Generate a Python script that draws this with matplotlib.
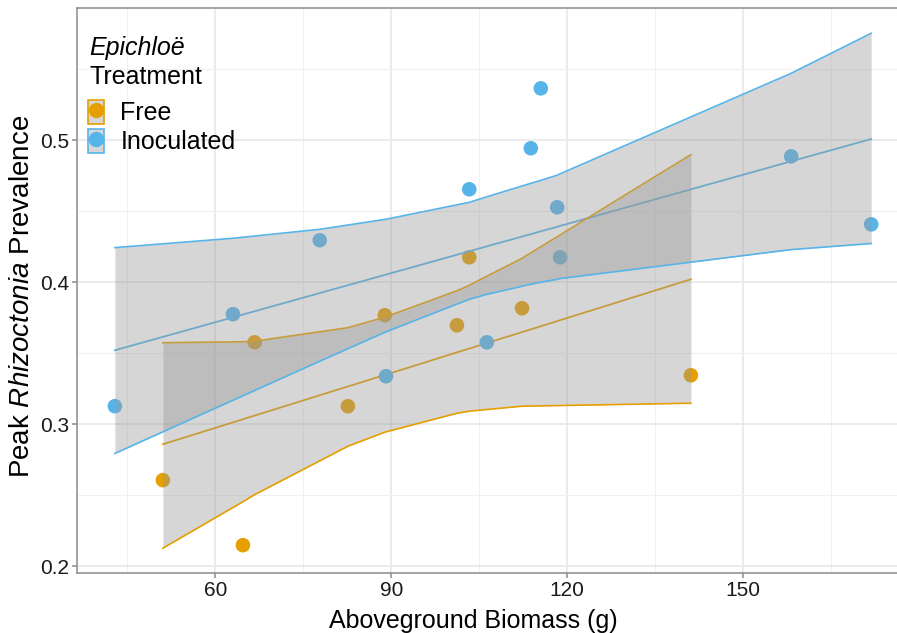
import numpy as np
import matplotlib
matplotlib.use('Agg')
import matplotlib.pyplot as plt
from matplotlib.patches import Patch
from matplotlib.lines import Line2D

plt.rcParams['font.family'] = ['Liberation Sans', 'DejaVu Sans']
plt.rcParams['mathtext.fontset'] = 'custom'
plt.rcParams['mathtext.rm'] = 'Liberation Sans'
plt.rcParams['mathtext.it'] = 'Liberation Sans:italic'

# Epichloe free plants
free_x = [51.05, 64.7, 66.7, 82.6, 88.9, 101.2, 103.3, 112.3, 141.1]
free_y = [0.2606, 0.2148, 0.3577, 0.3127, 0.3768, 0.3697, 0.4176, 0.3817, 0.3345]
free_fit = [0.2859, 0.3035, 0.3061, 0.3266, 0.3347, 0.3506, 0.3533, 0.3649, 0.4021]
free_hi = [0.3574, 0.3581, 0.3585, 0.3680, 0.3754, 0.3940, 0.3979, 0.4169, 0.4899]
free_lo = [0.2127, 0.2454, 0.2504, 0.2845, 0.2944, 0.3077, 0.3092, 0.3127, 0.3148]

# inoculated plants
inoc_x = [42.86, 63.0, 77.8, 89.1, 103.3, 106.3, 113.8, 115.5, 118.3, 118.8, 158.2, 171.85]
inoc_y = [0.3127, 0.3775, 0.4296, 0.3338, 0.4655, 0.3577, 0.4944, 0.5366, 0.4528, 0.4176, 0.4887, 0.4408]
inoc_fit = [0.3521, 0.3753, 0.3924, 0.4054, 0.4218, 0.4253, 0.4339, 0.4359, 0.4391, 0.4397, 0.4852, 0.5009]
inoc_hi = [0.4244, 0.4310, 0.4373, 0.4444, 0.4563, 0.4602, 0.4697, 0.4718, 0.4754, 0.4764, 0.5472, 0.5754]
inoc_lo = [0.2794, 0.3169, 0.3444, 0.3651, 0.3880, 0.3915, 0.3986, 0.4000, 0.4021, 0.4026, 0.4230, 0.4273]

groups = ['Free', 'Inoculated']
colors = ['#E69F00', '#56B4E9']
x_ticks = [60, 90, 120, 150]
y_ticks = [0.2, 0.3, 0.4, 0.5]

W, H = 897, 633
fig = plt.figure(figsize=(W / 100, H / 100), dpi=100)
# panel runs a bit past the right edge like the (cropped) original
ax = fig.add_axes([77 / W, 60 / H, (909 - 77) / W, 565 / H])

data = [(free_x, free_y, free_fit, free_lo, free_hi),
        (inoc_x, inoc_y, inoc_fit, inoc_lo, inoc_hi)]

# points and fitted lines sit under the ribbons
for (x, y, fit, lo, hi), c in zip(data, colors):
    ax.scatter(x, y, s=110, color=c, edgecolors='none', zorder=2)
    ax.plot(x, fit, color=c, lw=1.3, zorder=2)

for i, ((x, y, fit, lo, hi), c) in enumerate(zip(data, colors)):
    z = 3 + 2 * i
    ax.fill_between(x, lo, hi, color='#999999', alpha=0.4, lw=0, zorder=z)
    ax.plot(x, lo, color=c, lw=1.2, zorder=z + 0.5)
    ax.plot(x, hi, color=c, lw=1.2, zorder=z + 0.5)

ax.set_xlim(36.4, 178.3)
ax.set_ylim(0.1952, 0.5932)
ax.set_xticks(x_ticks)
ax.set_yticks(y_ticks)
ax.set_xticks([45, 75, 105, 135, 165], minor=True)
ax.set_yticks([0.25, 0.35, 0.45, 0.55], minor=True)
ax.grid(True, which='major', color='#E8E8E8', lw=1.2, zorder=0)
ax.grid(True, which='minor', color='#F0F0F0', lw=0.8, zorder=0)
ax.set_axisbelow(True)
ax.tick_params(which='major', length=3.5, width=1.1, color='#8C8C8C',
               labelsize=15, labelcolor='#1A1A1A', pad=2)
ax.tick_params(which='minor', length=0)
ax.set_yticklabels(['0.2', '0.3', '0.4', '0.5'])
for s in ax.spines.values():
    s.set_color('#8C8C8C')
    s.set_linewidth(1.1)

ax.set_xlabel('Aboveground Biomass (g)', fontsize=18)
ax.xaxis.set_label_coords(0.476, -0.063)
ax.set_ylabel('Peak $\\mathit{Rhizoctonia}$ Prevalence', fontsize=20)
ax.yaxis.set_label_coords(-0.05, 0.49)

# legend: title as two text lines, keys as grey boxes with a dot
fig.text(89 / W, 1 - 55 / H, 'Epichloë', fontsize=18, fontstyle='italic')
fig.text(89 / W, 1 - 84 / H, 'Treatment', fontsize=18)
handles = [(Patch(facecolor='#D6D6D6', edgecolor=c, lw=1.2),
            Line2D([], [], marker='o', ls='none', color=c, markersize=10))
           for c in colors]
fig.legend(handles, groups, loc='upper left', bbox_to_anchor=(88 / W, 1 - 100 / H),
           frameon=False, fontsize=18, handlelength=0.65, handleheight=1.1,
           handletextpad=0.65, labelspacing=0.12, borderpad=0, borderaxespad=0)

fig.savefig('out.png', dpi=100)
